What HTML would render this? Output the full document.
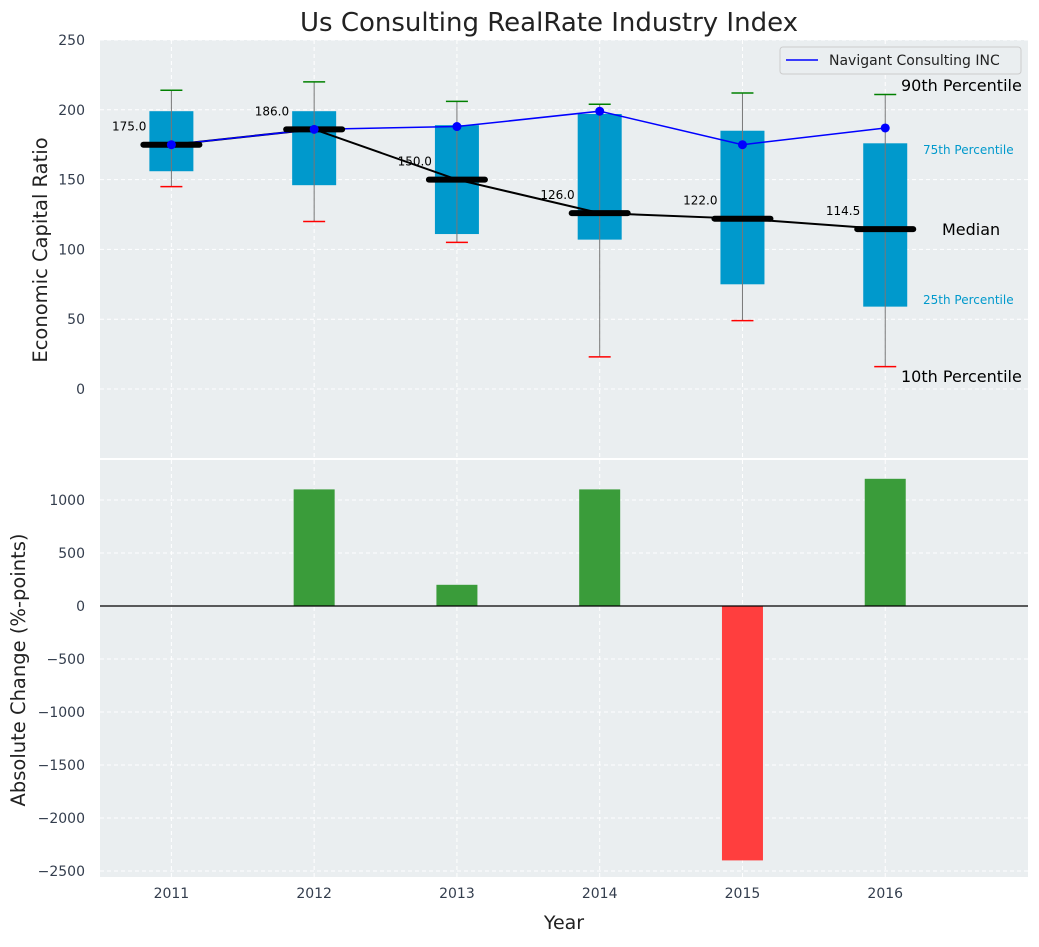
<!DOCTYPE html>
<html><head><meta charset="utf-8"><style>
body{margin:0;background:#fff;font-family:"Liberation Sans","DejaVu Sans",sans-serif}
svg text{font-family:"DejaVu Sans","Liberation Sans",sans-serif}
</style></head><body>
<svg id="c" width="1039" height="942" xmlns="http://www.w3.org/2000/svg"></svg>
<script>
const years=[2011,2012,2013,2014,2015,2016];
const p10=[145,120,105,23,49,16];
const q1=[156,146,111,107,75,59];
const med=[175,186,150,126,122,114.5];
const q3=[199,199,189,197,185,176];
const p90=[214,220,206,204,212,211];
const navigant=[175,186,188,199,175,187];
const changes=[0,1100,200,1100,-2400,1200];
const topTicks=[0,50,100,150,200,250];
const botTicks=[-2500,-2000,-1500,-1000,-500,0,500,1000];

const NS="http://www.w3.org/2000/svg";
const svg=document.getElementById('c');
function el(t,a,p){const e=document.createElementNS(NS,t);for(const k in a)e.setAttribute(k,a[k]);(p||svg).appendChild(e);return e;}
const X0=100,X1=1028;
const x=v=>X0+(v-2010.5)/(2017-2010.5)*(X1-X0);
const T0=40,T1=458,yT=v=>389-v*(349/250);
const B0=460,B1=877,yB=v=>606-v*(106/1000);

let r=el('rect',{x:X0,y:T0,width:X1-X0,height:T1-T0,fill:'#eaeef0'});

r=el('rect',{x:X0,y:B0,width:X1-X0,height:B1-B0,fill:'#eaeef0'});


topTicks.forEach(t=>{const y=yT(t);
 let g=el('line',{x1:X0,x2:X1,y1:y,y2:y,stroke:'#fff','stroke-dasharray':'4,3'});
 
 let tx=el('text',{x:85,y:y+5,'text-anchor':'end','font-size':14,fill:'#333d4d'});tx.textContent=t;
 });
botTicks.forEach(t=>{const y=yB(t);
 let g=el('line',{x1:X0,x2:X1,y1:y,y2:y,stroke:'#fff','stroke-dasharray':'4,3'});
 
 let tx=el('text',{x:85,y:y+5,'text-anchor':'end','font-size':14,fill:'#333d4d'});tx.textContent=t.toString().replace('-','\u2212');
 });
years.forEach(yr=>{const xx=x(yr);
 [[T0,T1],[B0,B1]].forEach(([a,b])=>{let g=el('line',{x1:xx,x2:xx,y1:a,y2:b,stroke:'#fff','stroke-dasharray':'4,3'});
 });
 let tx=el('text',{x:xx,y:898,'text-anchor':'middle','font-size':14,fill:'#333d4d'});tx.textContent=yr;
 });

years.forEach((yr,i)=>{const xx=x(yr);
 let b=el('rect',{x:xx-22,y:yT(q3[i]),width:44,height:yT(q1[i])-yT(q3[i]),fill:'#0099cc'});
 
 let w=el('line',{x1:xx,x2:xx,y1:yT(p10[i]),y2:yT(p90[i]),stroke:'#777','stroke-width':1});
 
 let c=el('line',{x1:xx-11,x2:xx+11,y1:yT(p90[i]),y2:yT(p90[i]),stroke:'green','stroke-width':1.5});
 
 c=el('line',{x1:xx-11,x2:xx+11,y1:yT(p10[i]),y2:yT(p10[i]),stroke:'red','stroke-width':1.5});
 
});
let ml=el('polyline',{points:years.map((yr,i)=>x(yr)+','+yT(med[i])).join(' '),fill:'none',stroke:'#000','stroke-width':2});

let nl=el('polyline',{points:years.map((yr,i)=>x(yr)+','+yT(navigant[i])).join(' '),fill:'none',stroke:'blue','stroke-width':1.5});

years.forEach((yr,i)=>{const xx=x(yr);
 let m=el('line',{x1:xx-28,x2:xx+28,y1:yT(med[i]),y2:yT(med[i]),stroke:'#000','stroke-width':6,'stroke-linecap':'round'});
 
 let d=el('circle',{cx:xx,cy:yT(navigant[i]),r:4.5,fill:'blue'});
 
 let t=el('text',{x:xx-25,y:yT(med[i])-14,'text-anchor':'end','font-size':12,fill:'#000'});t.textContent=med[i].toFixed(1);
 
});
[[901,91,'90th Percentile',16,'#000'],[923,154,'75th Percentile',12,'#0099cc'],[942,235,'Median',16,'#000'],[923,304,'25th Percentile',12,'#0099cc'],[901,382,'10th Percentile',16,'#000']].forEach(a=>{
 let t=el('text',{x:a[0],y:a[1],'font-size':a[3],fill:a[4]});t.textContent=a[2];
 });

let lg=el('g',{});
el('rect',{x:780,y:47,width:241,height:27,rx:3,fill:'#eaeef0',stroke:'#ccc'},lg);
el('line',{x1:786,x2:818,y1:60,y2:60,stroke:'blue','stroke-width':1.5},lg);
let lt=el('text',{x:829,y:65,'font-size':14,fill:'#222'},lg);lt.textContent='Navigant Consulting INC';

years.forEach((yr,i)=>{const xx=x(yr),v=changes[i];
 let b=el('rect',{x:xx-20.5,y:Math.min(yB(v),yB(0)),width:41,height:Math.abs(yB(v)-yB(0)),fill:v>=0?'#3a9c3a':'#ff3e3e'});
 });
let z=el('line',{x1:X0,x2:X1,y1:yB(0),y2:yB(0),stroke:'#000','stroke-width':1.2});


let t=el('text',{x:549,y:31,'text-anchor':'middle','font-size':26,fill:'#222'});t.textContent='Us Consulting RealRate Industry Index';

t=el('text',{x:0,y:0,'text-anchor':'middle','font-size':19.5,fill:'#222',transform:'translate(47,250) rotate(-90)'});t.textContent='Economic Capital Ratio';

t=el('text',{x:0,y:0,'text-anchor':'middle','font-size':19.5,fill:'#222',transform:'translate(25,670) rotate(-90)'});t.textContent='Absolute Change (%-points)';

t=el('text',{x:564,y:929,'text-anchor':'middle','font-size':19,fill:'#222'});t.textContent='Year';

</script>
</body></html>
